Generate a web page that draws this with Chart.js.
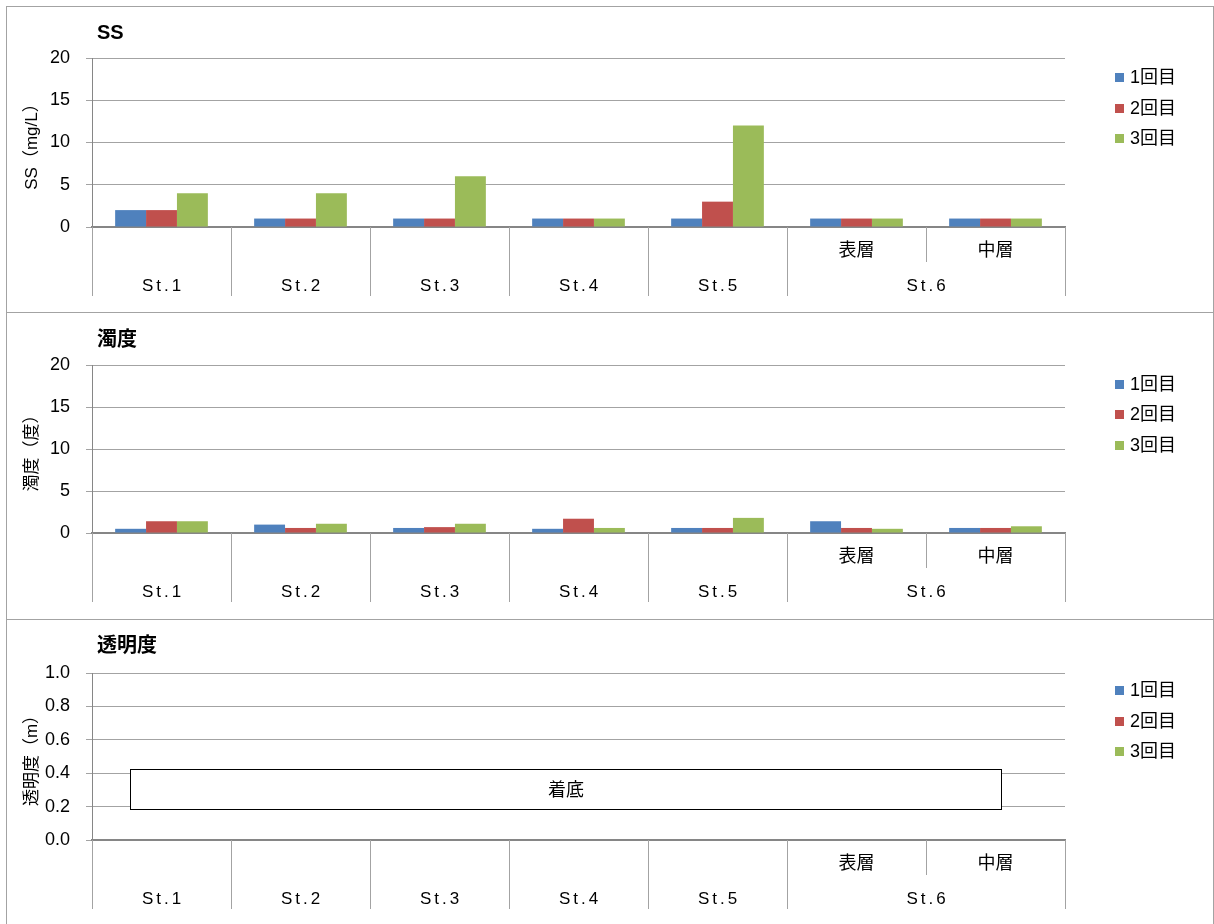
<!DOCTYPE html>
<html>
<head>
<meta charset="utf-8">
<script src="https://cdn.jsdelivr.net/npm/chart.js@4.4.1/dist/chart.umd.min.js"></script>
<style>
  html, body { margin: 0; padding: 0; background: #fff; width: 1214px; height: 924px; overflow: hidden; }
  .panel { position: absolute; left: 6px; width: 1208px; box-sizing: border-box; border: 1px solid #a3a3a3; }
  canvas { position: absolute; left: 0; }
</style>
</head>
<body>
<div class="panel" style="top:6px;height:307px"></div>
<div class="panel" style="top:312px;height:308px"></div>
<div class="panel" style="top:619px;height:312px"></div>
<canvas id="ssChart" width="1214" height="306" style="top:6px"></canvas>
<canvas id="turbChart" width="1214" height="307" style="top:312px"></canvas>
<canvas id="clarityChart" width="1214" height="305" style="top:619px"></canvas>
<script>
// Sampling points: St.1–St.5, and St.6 split into surface / middle layer
const categoryLabels = ['St.1', 'St.2', 'St.3', 'St.4', 'St.5', 'St.6 表層', 'St.6 中層'];
const layerLabels = ['', '', '', '', '', '表層', '中層'];
const stationLabels = ['St.1', 'St.2', 'St.3', 'St.4', 'St.5', 'St.6'];
const stationSpans = [1, 1, 1, 1, 1, 2];

const seriesNames = ['1回目', '2回目', '3回目'];
const seriesColors = ['#4F81BD', '#C0504D', '#9BBB59'];

// SS (mg/L)
const ssRound1 = [2, 1, 1, 1, 1, 1, 1];
const ssRound2 = [2, 1, 1, 1, 3, 1, 1];
const ssRound3 = [4, 4, 6, 1, 12, 1, 1];

// Turbidity (度)
const turbRound1 = [0.5, 1.0, 0.6, 0.5, 0.6, 1.4, 0.6];
const turbRound2 = [1.4, 0.6, 0.7, 1.7, 0.6, 0.6, 0.6];
const turbRound3 = [1.4, 1.1, 1.1, 0.6, 1.8, 0.5, 0.8];

// Transparency (m): disc reached the bottom at every point, so no readings
const clarityRound1 = [null, null, null, null, null, null, null];
const clarityRound2 = [null, null, null, null, null, null, null];
const clarityRound3 = [null, null, null, null, null, null, null];

const ssTicks = ['0', '5', '10', '15', '20'];
const turbTicks = ['0', '5', '10', '15', '20'];
const clarityTicks = ['0.0', '0.2', '0.4', '0.6', '0.8', '1.0'];

const FONT = '"Liberation Sans", Arial, "Noto Sans CJK JP", sans-serif';
const LINE = '#a3a3a3';

// Draws the heading, legend, two-level category axis and optional note box
const panelDecor = {
  id: 'panelDecor',
  afterDatasetsDraw(chart, args, opts) {
    const ctx = chart.ctx;
    const x = chart.scales.x;
    const y = chart.scales.y;

    ctx.save();
    // note box ("着底")
    if (opts.note) {
      const n = opts.note;
      const x0 = Math.round(x.getPixelForValue(n.xFrom)) + 0.5;
      const x1 = Math.round(x.getPixelForValue(n.xTo)) + 0.5;
      const y0 = Math.round(y.getPixelForValue(n.yTo)) + 0.5;
      const y1 = Math.round(y.getPixelForValue(n.yFrom)) + 0.5;
      ctx.fillStyle = '#fff';
      ctx.fillRect(x0, y0, x1 - x0, y1 - y0);
      ctx.strokeStyle = '#000';
      ctx.lineWidth = 1;
      ctx.strokeRect(x0, y0, x1 - x0, y1 - y0);
      ctx.fillStyle = '#000';
      ctx.font = '18px ' + FONT;
      ctx.textAlign = 'center';
      ctx.textBaseline = 'middle';
      ctx.fillText(n.text, (x0 + x1) / 2, (y0 + y1) / 2 + 2);
    }
    ctx.restore();
  },
  afterDraw(chart, args, opts) {
    const ctx = chart.ctx;
    const area = chart.chartArea;
    const n = chart.data.labels.length;
    const catW = (area.right - area.left) / n;
    const base = area.bottom;

    ctx.save();
    // heading
    ctx.fillStyle = '#000';
    ctx.font = 'bold 20px ' + FONT;
    ctx.textAlign = 'left';
    ctx.textBaseline = 'middle';
    ctx.fillText(opts.heading, 97, opts.headingY);

    // legend
    ctx.font = '18px ' + FONT;
    chart.data.datasets.forEach((ds, i) => {
      const cy = opts.legendY + i * 30.5;
      ctx.fillStyle = ds.backgroundColor;
      ctx.fillRect(1115, Math.round(cy - 4.5), 9, 9);
      ctx.fillStyle = '#000';
      ctx.fillText(ds.label, 1130, cy + 1);
    });

    // category axis: separators
    ctx.strokeStyle = LINE;
    ctx.lineWidth = 1;
    const fullDepth = 69, layerDepth = 35;
    const groupEdges = [0];
    stationSpans.forEach(s => groupEdges.push(groupEdges[groupEdges.length - 1] + s));
    for (let b = 0; b <= n; b++) {
      const px = Math.round(area.left + b * catW) + 0.5;
      const depth = groupEdges.includes(b) ? fullDepth : layerDepth;
      ctx.beginPath();
      ctx.moveTo(px, base);
      ctx.lineTo(px, base + depth);
      ctx.stroke();
    }

    // layer labels
    ctx.fillStyle = '#000';
    ctx.font = '18px ' + FONT;
    ctx.textAlign = 'center';
    ctx.textBaseline = 'middle';
    layerLabels.forEach((t, i) => {
      if (!t) return;
      ctx.fillText(t, area.left + (i + 0.5) * catW, base + 24);
    });

    // station labels
    ctx.font = '17px ' + FONT;
    if ('letterSpacing' in ctx) ctx.letterSpacing = '3px';
    stationLabels.forEach((t, g) => {
      const cx = area.left + (groupEdges[g] + stationSpans[g] / 2) * catW;
      ctx.fillText(t, cx + 1.5, base + 59);
    });
    ctx.restore();
  }
};

function makeChart(id, cfg) {
  const el = document.getElementById(id);
  return new Chart(el, {
    type: 'bar',
    data: {
      labels: categoryLabels,
      datasets: seriesNames.map((name, i) => ({
        label: name,
        data: cfg.series[i],
        backgroundColor: seriesColors[i],
        borderWidth: 0,
        categoryPercentage: 0.667,
        barPercentage: 1
      }))
    },
    options: {
      responsive: false,
      animation: false,
      events: [],
      layout: { padding: { left: 0, right: 149, top: cfg.plotTop, bottom: 0 } },
      plugins: {
        legend: { display: false },
        title: { display: false },
        tooltip: { enabled: false },
        panelDecor: {
          heading: cfg.heading,
          headingY: cfg.headingY,
          legendY: cfg.legendY,
          note: cfg.note || null
        }
      },
      scales: {
        x: {
          ticks: { display: false },
          grid: { display: false },
          border: { display: true, color: '#868686', width: 2 },
          afterFit(s) { s.height = cfg.xHeight; }
        },
        y: {
          min: cfg.min,
          max: cfg.max,
          ticks: {
            stepSize: cfg.step,
            color: '#000',
            padding: 16,
            font: { family: FONT, size: 18 },
            callback: (v, i) => cfg.ticks[i]
          },
          grid: { color: LINE, lineWidth: 1, tickLength: 6 },
          border: { color: '#868686', width: 1 },
          title: {
            display: true,
            text: cfg.axisTitle,
            color: '#000',
            font: { family: FONT, size: 17 },
            padding: { top: 22, bottom: 0 }
          },
          afterFit(s) { s.width = 92; }
        }
      }
    },
    plugins: [panelDecor]
  });
}

makeChart('ssChart', {
  series: [ssRound1, ssRound2, ssRound3],
  min: 0, max: 20, step: 5, ticks: ssTicks,
  axisTitle: 'SS（mg/L）',
  heading: 'SS', headingY: 27, legendY: 71.5,
  plotTop: 52, xHeight: 85
});

makeChart('turbChart', {
  series: [turbRound1, turbRound2, turbRound3],
  min: 0, max: 20, step: 5, ticks: turbTicks,
  axisTitle: '濁度（度）',
  heading: '濁度', headingY: 28, legendY: 72,
  plotTop: 53, xHeight: 86
});

makeChart('clarityChart', {
  series: [clarityRound1, clarityRound2, clarityRound3],
  min: 0, max: 1, step: 0.2, ticks: clarityTicks,
  axisTitle: '透明度（m）',
  heading: '透明度', headingY: 27, legendY: 71.5,
  plotTop: 54, xHeight: 84,
  note: { text: '着底', xFrom: -0.23, xTo: 6.04, yFrom: 0.185, yTo: 0.425 }
});
</script>
</body>
</html>
